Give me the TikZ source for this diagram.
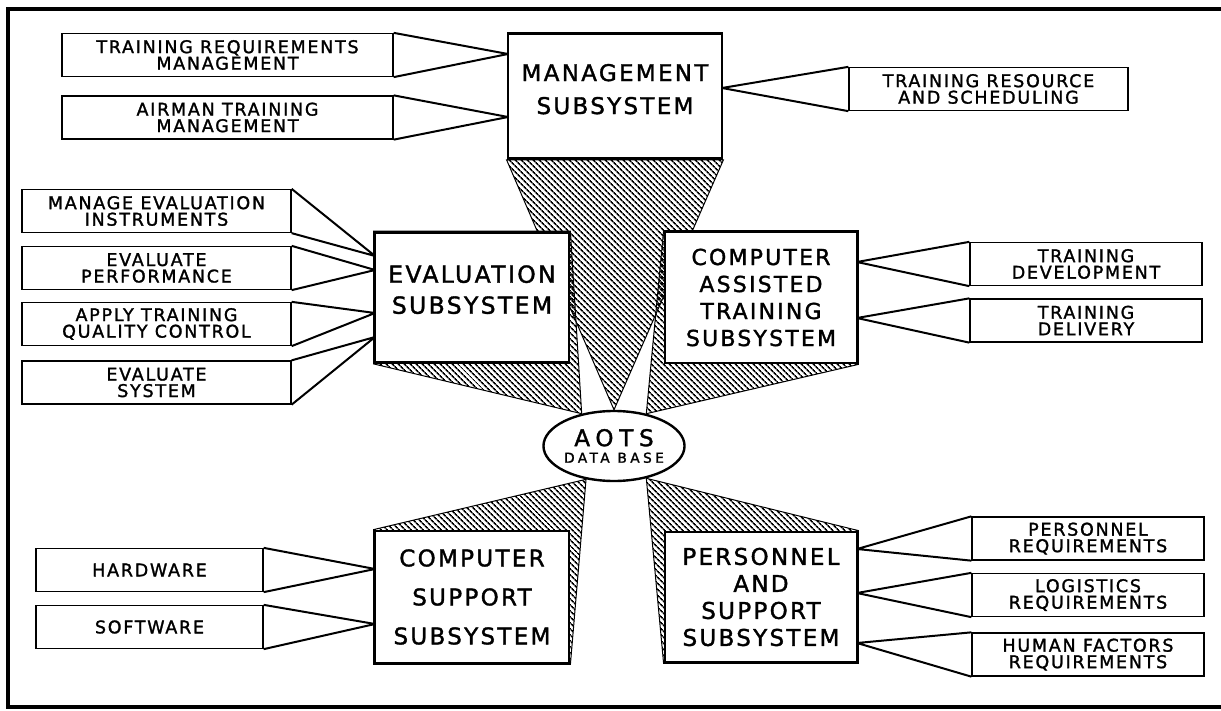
\documentclass[tikz,border=0pt]{standalone}
\usepackage{fontspec}
\setmainfont{DejaVu Sans}[LetterSpace=10,FakeBold=1.5]
\usetikzlibrary{shapes.geometric,patterns.meta,backgrounds}

\begin{document}
\begin{tikzpicture}[x=1pt,y=-1pt]
\tikzset{subsys/.style = {draw, line width=2.8pt, fill=white, align=center, inner sep=0pt, font=\fontsize{23}{27}\selectfont}}
\tikzset{task/.style = {draw, line width=1.3pt, fill=white, align=center, inner sep=0pt, minimum height=43pt, font=\fontsize{17.5}{16.5}\selectfont}}
\tikzset{wedge/.style = {line width=2pt, line join=round}}
\tikzset{hatch/.style = {draw, line width=1pt, pattern={Lines[angle=-45,distance=4pt,line width=1.7pt]}}}

\useasboundingbox (0,0) rectangle (1221,711);
\draw[line width=4pt] (1225,9) -- (8,9) -- (8,707) -- (1225,707);

% subsystems
\node[subsys, minimum width=214pt, minimum height=125pt, font=\fontsize{23}{33}\selectfont, text depth=14pt] (mgmt) at (615,96) {MANAGEMENT\\SUBSYSTEM};
\node[subsys, minimum width=194pt, minimum height=130pt, font=\fontsize{23.5}{31}\selectfont, text depth=16pt] (eval) at (472,297.5) {EVALUATION\\SUBSYSTEM};
\node[subsys, minimum width=192pt, minimum height=131pt, font=\fontsize{22}{27}\selectfont] (cat) at (761,297.5) {COMPUTER\\ASSISTED\\TRAINING\\SUBSYSTEM};
\node[subsys, minimum width=194pt, minimum height=132pt, font=\fontsize{23}{39}\selectfont] (cs) at (472,597) {COMPUTER\\SUPPORT\\SUBSYSTEM};
\node[subsys, minimum width=192pt, minimum height=130pt] (ps) at (761,597) {PERSONNEL\\AND\\SUPPORT\\SUBSYSTEM};

\node[draw, ellipse, line width=2.4pt, fill=white, minimum width=140pt, minimum height=70pt, inner sep=0pt, align=center,
  font=\fontsize{13.7}{16.6}\selectfont\addfontfeature{LetterSpace=25}] (aots) at (614,446)
  {{\fontsize{23}{16.6}\selectfont AOTS}\\DATA BASE};

% hatched links to the data base
\begin{scope}[on background layer]
\draw[hatch] (mgmt.south west) -- (aots.north) -- (mgmt.south east) -- cycle;
\draw[hatch] (aots.135) -- (eval.south west) -- (eval.north west) -- (eval.north east) -- cycle;
\draw[hatch] (aots.45) -- (cat.north west) -- (cat.north east) -- (cat.south east) -- cycle;
\draw[hatch] (aots.230) -- (cs.north west) -- (cs.south west) -- (cs.south east) -- cycle;
\draw[hatch] (aots.-45) -- (ps.north east) -- (ps.south east) -- (ps.south west) -- cycle;
\end{scope}

% functions
\node[task, minimum width=331pt] (trm) at (227.5,55) {TRAINING REQUIREMENTS\\MANAGEMENT};
\node[task, minimum width=331pt] (atm) at (227.5,117.5) {AIRMAN TRAINING\\MANAGEMENT};
\node[task, minimum width=279pt] (trs) at (988.5,89) {TRAINING RESOURCE\\AND SCHEDULING};

\node[task, minimum width=269pt] (mei) at (156.5,211) {MANAGE EVALUATION\\INSTRUMENTS};
\node[task, minimum width=269pt] (ep) at (156.5,268) {EVALUATE\\PERFORMANCE};
\node[task, minimum width=269pt] (atqc) at (156.5,324) {APPLY TRAINING\\QUALITY CONTROL};
\node[task, minimum width=269pt] (es) at (156.5,382.5) {EVALUATE\\SYSTEM};

\node[task, minimum width=232pt] (td) at (1086,264) {TRAINING\\DEVELOPMENT};
\node[task, minimum width=232pt] (tdel) at (1086,320.5) {TRAINING\\DELIVERY};

\node[task, minimum width=227pt] (hw) at (149.5,570) {HARDWARE};
\node[task, minimum width=227pt] (sw) at (149.5,627) {SOFTWARE};

\node[task, minimum width=232pt] (pr) at (1088,538.5) {PERSONNEL\\REQUIREMENTS};
\node[task, minimum width=232pt] (lr) at (1088,595) {LOGISTICS\\REQUIREMENTS};
\node[task, minimum width=232pt] (hfr) at (1088,654.5) {HUMAN FACTORS\\REQUIREMENTS};

\coordinate (trm-tip) at (508,54);
\coordinate (atm-tip) at (508,117);
\coordinate (trs-tip) at (722,88);
\coordinate (mei-tip) at (375,256);
\coordinate (ep-tip) at (375,270);
\coordinate (atqc-tip) at (375,313);
\coordinate (es-tip) at (375,337);
\coordinate (td-tip) at (857,262);
\coordinate (tdel-tip) at (857,318);
\coordinate (hw-tip) at (375,569);
\coordinate (sw-tip) at (375,624);
\coordinate (pr-tip) at (857,549);
\coordinate (lr-tip) at (857,593);
\coordinate (hfr-tip) at (857,643);

\draw[wedge] (trm.north east) -- (trm-tip) -- (trm.south east);
\draw[wedge] (atm.north east) -- (atm-tip) -- (atm.south east);
\draw[wedge] (trs.north west) -- (trs-tip) -- (trs.south west);
\draw[wedge] (mei.north east) -- (mei-tip) -- (mei.south east);
\draw[wedge] (ep.north east) -- (ep-tip) -- (ep.south east);
\draw[wedge] (atqc.north east) -- (atqc-tip) -- (atqc.south east);
\draw[wedge] (es.north east) -- (es-tip) -- (es.south east);
\draw[wedge] (td.north west) -- (td-tip) -- (td.south west);
\draw[wedge] (tdel.north west) -- (tdel-tip) -- (tdel.south west);
\draw[wedge] (hw.north east) -- (hw-tip) -- (hw.south east);
\draw[wedge] (sw.north east) -- (sw-tip) -- (sw.south east);
\draw[wedge] (pr.north west) -- (pr-tip) -- (pr.south west);
\draw[wedge] (lr.north west) -- (lr-tip) -- (lr.south west);
\draw[wedge] (hfr.north west) -- (hfr-tip) -- (hfr.south west);

\end{tikzpicture}
\end{document}
